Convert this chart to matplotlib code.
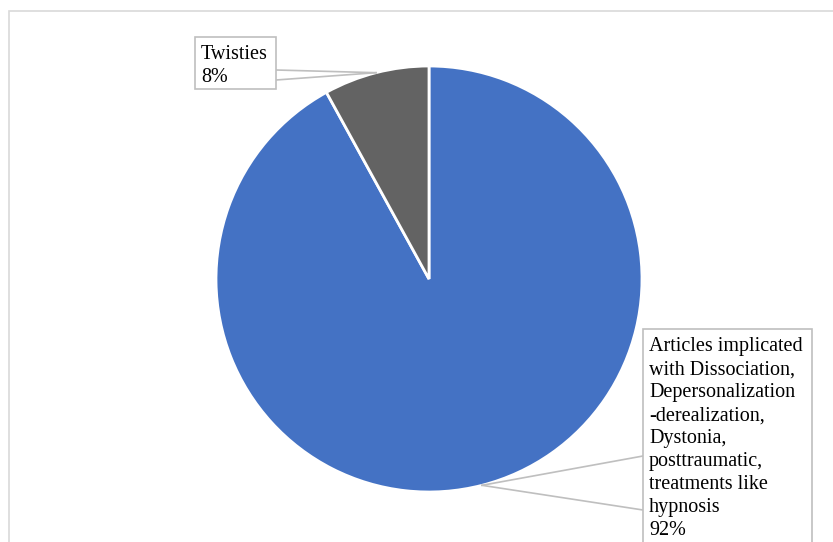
import numpy as np
import matplotlib.pyplot as plt
from matplotlib.patches import Rectangle

# slice data, Excel order (clockwise from 12 o'clock)
labels = ['Articles implicated\nwith Dissociation,\nDepersonalization\n-derealization,\nDystonia,\nposttraumatic,\ntreatments like\nhypnosis',
          'Twisties']
shares = [92, 8]
colors = ['#4472C4', '#636363']

W, H = 833, 542
plt.rcParams['font.family'] = ['Liberation Serif', 'DejaVu Serif']

fig = plt.figure(figsize=(W / 100, H / 100), dpi=100)
ax = fig.add_axes([0, 0, 1, 1])
ax.set_xlim(0, W)
ax.set_ylim(0, H)
ax.axis('off')

# chart area frame (runs off right/bottom edges)
ax.add_patch(Rectangle((9, -20), W + 20, H - 11 + 20, fill=False,
                       edgecolor='#d9d9d9', lw=1.2))

cx, cy, r = 429, H - 279, 213
wedges, _ = ax.pie(shares, colors=colors, startangle=90, counterclock=False,
                   center=(cx, cy), radius=r,
                   wedgeprops=dict(edgecolor='white', linewidth=2))
ax.set_aspect('equal')
ax.set_xlim(0, W)
ax.set_ylim(0, H)

# label boxes: (left, top, right, bottom) in pixels, plus callout attach points
boxes = [(643, 329, 812, 560, 456, 510), (195, 37, 276, 89, 70, 80)]
side = ['left', 'right']

for w, lab, pct, (l, t, rr, b, y1, y2), s in zip(wedges, labels, shares, boxes, side):
    mid = np.deg2rad((w.theta1 + w.theta2) / 2)
    px, py = cx + r * np.cos(mid), cy + r * np.sin(mid)
    ex = l if s == 'left' else rr
    for yy in (y1, y2):
        ax.plot([px, ex], [py, H - yy], color='#bfbfbf', lw=1.2, zorder=3)
    ax.add_patch(Rectangle((l, H - b), rr - l, b - t, facecolor='white',
                           edgecolor='#bfbfbf', lw=1.2, zorder=4))
    ax.text(l + 6, H - t - 8, f'{lab}\n{pct}%', ha='left', va='top',
            fontsize=14.5, linespacing=1.29, color='black', zorder=5)

fig.savefig('out.png', dpi=100)
